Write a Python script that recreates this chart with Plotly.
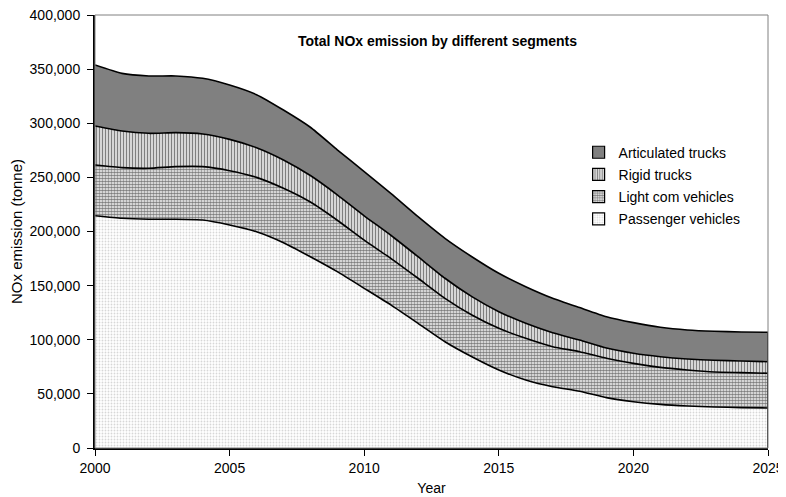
import plotly.graph_objects as go

years = list(range(2000, 2026))

passenger = [214600, 212200, 211300, 211300, 210600, 206000, 199800, 189700, 176700, 162900,
             147500, 132000, 115200, 98200, 84300, 72100, 62800, 56600, 52500, 46500,
             42800, 40300, 38800, 37900, 37300, 37000]
light_com = [46800, 46800, 47100, 48600, 49300, 50200, 50200, 50200, 50500, 47500,
             44500, 43000, 41600, 40100, 38600, 38500, 38500, 37000, 36500, 36400,
             35400, 34200, 33300, 32300, 32300, 32000]
rigid = [36100, 33800, 32300, 31400, 30200, 28900, 27400, 26200, 24500, 23500,
         22500, 21300, 19900, 18500, 16900, 15300, 13900, 12900, 10700, 9400,
         9300, 9800, 10100, 10800, 10800, 10700]
articulated = [56300, 53300, 53000, 52400, 51400, 50200, 49000, 46100, 44600, 41600,
               40800, 38700, 37000, 36900, 36900, 35500, 33800, 31800, 30000, 29000,
               28300, 27200, 26800, 26800, 26800, 27200]

series_names = ["Passenger vehicles", "Light com vehicles", "Rigid trucks", "Articulated trucks"]
y_ticks = list(range(0, 400001, 50000))
x_ticks = list(range(2000, 2026, 5))

FONT = "Liberation Sans, Arial, sans-serif"

patterns = [
    dict(shape=".", fgcolor="#b0b0b0", bgcolor="white", size=3, solidity=0.3),
    dict(shape=".", fgcolor="#000000", bgcolor="white", size=3, solidity=0.65),
    dict(shape="|", fgcolor="#000000", bgcolor="white", size=3, solidity=0.55),
    None,
]
colors = ["white", "white", "white", "#808080"]

fig = go.Figure()
for name, vals, pat, col in zip(series_names, [passenger, light_com, rigid, articulated], patterns, colors):
    kw = dict(fillcolor=col)
    if pat is not None:
        kw["fillpattern"] = pat
    fig.add_trace(go.Scatter(
        x=years, y=vals, name=name, mode="lines", stackgroup="one", showlegend=False,
        line=dict(color="black", width=1.6, shape="spline", smoothing=0.5),
        **kw,
    ))

total = [a + b + c + d for a, b, c, d in zip(passenger, light_com, rigid, articulated)]
fig.add_trace(go.Scatter(x=[years[-1], years[-1]], y=[0, total[-1]], mode="lines",
                         line=dict(color="black", width=1.6), showlegend=False, hoverinfo="skip"))

# legend entries (square swatches like the original), top to bottom
for name, pat, col in reversed(list(zip(series_names, patterns, colors))):
    mk = dict(color=col, line=dict(color="black", width=1.2))
    if pat is not None:
        mk["pattern"] = pat
    fig.add_trace(go.Bar(x=[None], y=[None], name=name, legendgroup=name, marker=mk))

fig.update_layout(
    width=778, height=489,
    margin=dict(l=87, r=18, t=7, b=49),
    paper_bgcolor="white", plot_bgcolor="white",
    font=dict(family=FONT, size=14, color="black"),
    showlegend=True,
    legend=dict(x=0.7186, y=0.719, xanchor="left", yanchor="top", traceorder="grouped",
                bgcolor="rgba(0,0,0,0)", font=dict(size=14), tracegroupgap=1),
    annotations=[dict(text="<b>Total NOx emission by different segments</b>", x=0.509, y=0.94,
                      xanchor="center", yanchor="middle",
                      xref="paper", yref="paper", showarrow=False, font=dict(size=14))],
    shapes=[dict(type="rect", xref="paper", yref="paper", x0=0, y0=0, x1=1, y1=1,
                 line=dict(color="#808080", width=1), layer="above")],
)
fig.update_xaxes(range=[2000, 2025], tickvals=x_ticks, ticktext=[str(t) for t in x_ticks],
                 showgrid=False, zeroline=False, showline=True, linecolor="black", linewidth=2,
                 ticks="outside", ticklen=6, tickcolor="black", tickfont=dict(size=14),
                 automargin=False, ticklabeloverflow="allow",
                 title=dict(text="Year", font=dict(size=14), standoff=8))
fig.update_yaxes(range=[0, 400000], tickvals=y_ticks, tickformat=",", showgrid=False,
                 zeroline=False, showline=True, linecolor="black", linewidth=2,
                 ticks="outside", ticklen=6, tickcolor="black", tickfont=dict(size=14),
                 ticklabelstandoff=4, automargin=False, ticklabeloverflow="allow",
                 title=dict(text="NOx emission (tonne)", font=dict(size=15), standoff=7))

fig.write_html("out.html")
